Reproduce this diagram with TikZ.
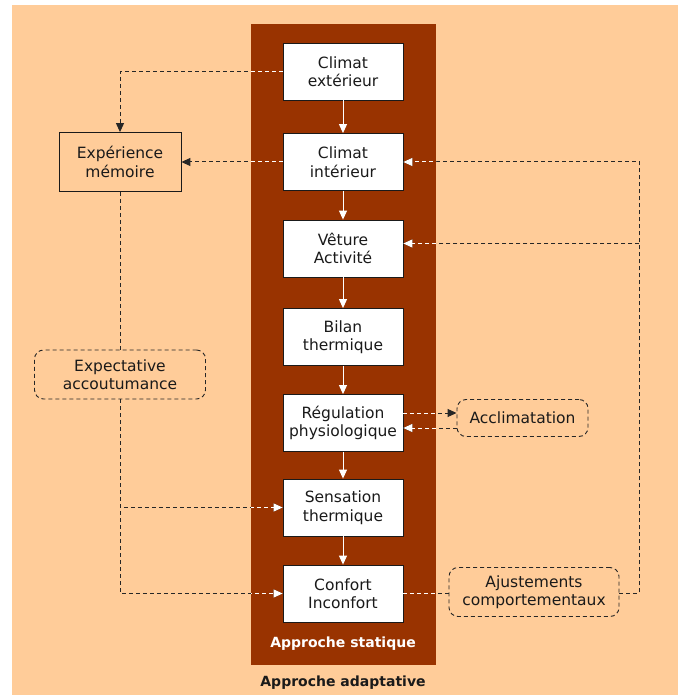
\documentclass[tikz,border=0pt]{standalone}
\usepackage{fontspec}
\setmainfont{DejaVu Sans}
\usetikzlibrary{
  arrows.meta,
  calc
}
\definecolor{adaptPeach}{HTML}{FFCC99}
\definecolor{staticBrown}{HTML}{993300}
\definecolor{linkGray}{HTML}{262626}
\definecolor{textGray}{HTML}{1A1A1A}
\tikzset{
  stageBox/.style={
    draw=textGray,
    line width=0.8pt,
    fill=white,
    text=textGray,
    align=center,
    font=\fontsize{15.5}{18.5}\selectfont,
    minimum width=120pt,
    minimum height=57pt,
    inner sep=2pt
  },
  memoBox/.style={stageBox, fill=adaptPeach, minimum width=122pt, minimum height=59pt},
  softBox/.style={
    draw=linkGray,
    dash pattern=on 4pt off 3pt,
    line width=0.9pt,
    rounded corners=9pt,
    text=textGray,
    align=center,
    font=\fontsize{15.5}{18.5}\selectfont,
    inner sep=2pt
  },
  flowArrow/.style={-{Triangle[length=9pt,width=8pt]}, white, line width=1pt},
  dashLink/.style={dash pattern=on 4pt off 3pt, line width=1pt},
  dashArrow/.style={dashLink, -{Triangle[length=9pt,width=8pt]}},
  approachLabel/.style={font=\bfseries\fontsize{14}{16}\selectfont}
}
% connectors of the adaptive loop, drawn in the colour given
\newcommand{\adaptLinks}[1]{%
  \begin{scope}[#1]
    \draw[dashArrow] (ext.west) -| (memo.north);
    \draw[dashArrow] (int.west) -- (memo.east);
    \draw[dashLink] (memo.south) -- (expect.north);
    \draw[dashArrow] (expect.south) |- (sens.west);
    \draw[dashArrow] (expect.south) |- (conf.west);
    \draw[dashLink] (conf.east) -- (conf.east -| adjust.west);
    \draw[dashArrow] (conf.east -| adjust.east) -| (rtop) -- (int.east);
    \draw[dashArrow] (rtop |- vetIn) -- (vetIn);
    \draw[dashArrow] (regOut) -- (regOut -| accl.west);
    \draw[dashArrow] (acclIn -| accl.west) -- (acclIn);
  \end{scope}}

\begin{document}
\begin{tikzpicture}[x=1pt,y=-1pt]
  \useasboundingbox (0,0) rectangle (678,695);
  \fill[adaptPeach] (12,5) rectangle (678,695);
  \fill[staticBrown] (251,24) rectangle (436,665);

  % static chain
  \node[stageBox] (ext)  at (343,71.5)  {Climat\\extérieur};
  \node[stageBox] (int)  at (343,162)   {Climat\\intérieur};
  \node[stageBox] (vet)  at (343,248.5) {Vêture\\Activité};
  \node[stageBox] (bil)  at (343,337)   {Bilan\\thermique};
  \node[stageBox] (reg)  at (343,423)   {Régulation\\physiologique};
  \node[stageBox] (sens) at (343,507.5) {Sensation\\thermique};
  \node[stageBox] (conf) at (343,593.5) {Confort\\Inconfort};
  \foreach \a/\b in {ext/int, int/vet, vet/bil, bil/reg, reg/sens, sens/conf}
    \draw[flowArrow] (\a.south) -- (\b.north);

  % adaptive side
  \node[memoBox] (memo) at (120,162) {Expérience\\mémoire};
  \node[softBox, minimum width=171pt, minimum height=49pt]
    (expect) at (120,374.5) {Expectative\\accoutumance};
  \node[softBox, minimum width=131pt, minimum height=37pt]
    (accl) at (522.5,418) {Acclimatation};
  \node[softBox, minimum width=170pt, minimum height=49pt]
    (adjust) at (534,592) {Ajustements\\comportementaux};
  \coordinate (rtop) at ($(int.east)+(236,0)$);
  \coordinate (vetIn) at ([yshift=5pt]vet.east);
  \coordinate (regOut) at ([yshift=10pt]reg.east);
  \coordinate (acclIn) at ($(reg.east)+(0,5)$);

  \adaptLinks{linkGray}
  \begin{scope}
    \clip (251,24) rectangle (436,665);
    \adaptLinks{white}
  \end{scope}

  \node[approachLabel, text=white] (statLbl) at (343,644) {Approche statique};
  \node[approachLabel, text=textGray] (adaptLbl) at (343,683) {Approche adaptative};
\end{tikzpicture}
\end{document}
